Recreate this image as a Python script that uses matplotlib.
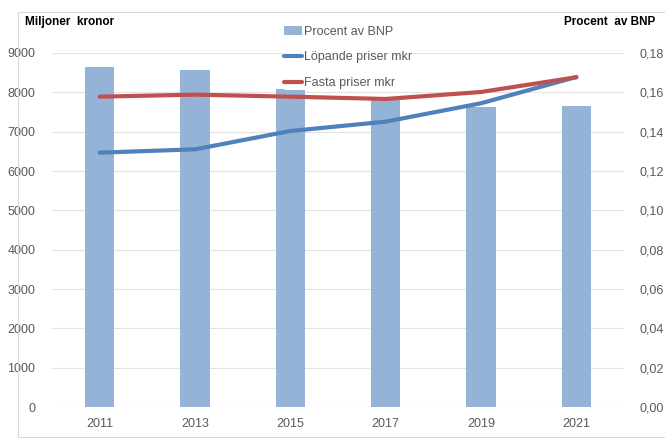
import numpy as np
import matplotlib.pyplot as plt
from matplotlib.patches import Rectangle

years = ['2011', '2013', '2015', '2017', '2019', '2021']
procent_bnp = [0.1730, 0.1712, 0.1615, 0.1576, 0.1525, 0.1531]
lopande = [6466, 6551, 7017, 7254, 7722, 8390]
fasta = [7890, 7941, 7890, 7831, 8009, 8383]

plt.rcParams['font.family'] = ['Liberation Sans', 'DejaVu Sans']
grey = '#595959'

fig = plt.figure(figsize=(6.65, 4.38), dpi=100)
# outer chart frame
fig.patches.append(Rectangle((18 / 665, 0.002), 0.99, (438 - 12) / 438 - 0.002,
                             transform=fig.transFigure, fill=False,
                             edgecolor='#D9D9D9', linewidth=0.8))

ax = fig.add_axes([52 / 665, 31 / 438, 572 / 665, 354 / 438])
ax2 = ax.twinx()
x = np.arange(len(years))

# bars on the right axis, lines on the left axis (drawn above)
ax.set_zorder(ax2.get_zorder() + 1)
ax.patch.set_visible(False)

bars = ax2.bar(x, procent_bnp, width=0.31, color='#95B3D7', zorder=2,
               label='Procent av BNP')
l1, = ax.plot(x, lopande, color='#4F81BD', lw=3, solid_capstyle='round',
              label='Löpande priser mkr')
l2, = ax.plot(x, fasta, color='#C0504D', lw=3, solid_capstyle='round',
              label='Fasta priser mkr')

ax.set_ylim(0, 9000)
ax.set_yticks(np.arange(0, 9001, 1000))
ax2.set_ylim(0, 0.18)
ax2.set_yticks(np.arange(0, 0.181, 0.02))
ax2.set_yticklabels([f'{v:.2f}'.replace('.', ',') for v in np.arange(0, 0.181, 0.02)])
ax.set_xlim(-0.5, len(years) - 0.5)
ax.set_xticks(x)
ax.set_xticklabels(years)

for v in np.arange(0, 9001, 1000):
    ax2.axhline(v / 9000 * 0.18, color='#E3E3E3', lw=0.8, zorder=0)

for a in (ax, ax2):
    for s in a.spines.values():
        s.set_visible(False)
    a.tick_params(length=0, labelsize=9, colors=grey)
ax.tick_params(axis='y', pad=12)
ax2.tick_params(axis='y', pad=11)
ax.tick_params(axis='x', pad=8)

fig.text(25 / 665, 1 - 22 / 438, 'Miljoner  kronor', fontsize=8.5,
         fontweight='bold', va='center', ha='left', color='black')
fig.text(655 / 665, 1 - 22 / 438, 'Procent  av BNP', fontsize=8.5,
         fontweight='bold', va='center', ha='right', color='black')

leg = fig.legend([bars, l1, l2],
                 ['Procent av BNP', 'Löpande priser mkr', 'Fasta priser mkr'],
                 loc='upper left', bbox_to_anchor=(283 / 665, 1 - 25 / 438),
                 frameon=True, fontsize=9, labelcolor=grey,
                 handlelength=1.5, handletextpad=0.1, labelspacing=1.1,
                 borderpad=0.05, borderaxespad=0)
leg.get_frame().set_edgecolor('none')
leg.get_frame().set_facecolor('white')
leg.get_frame().set_alpha(1)

fig.savefig('out.png', dpi=100)
